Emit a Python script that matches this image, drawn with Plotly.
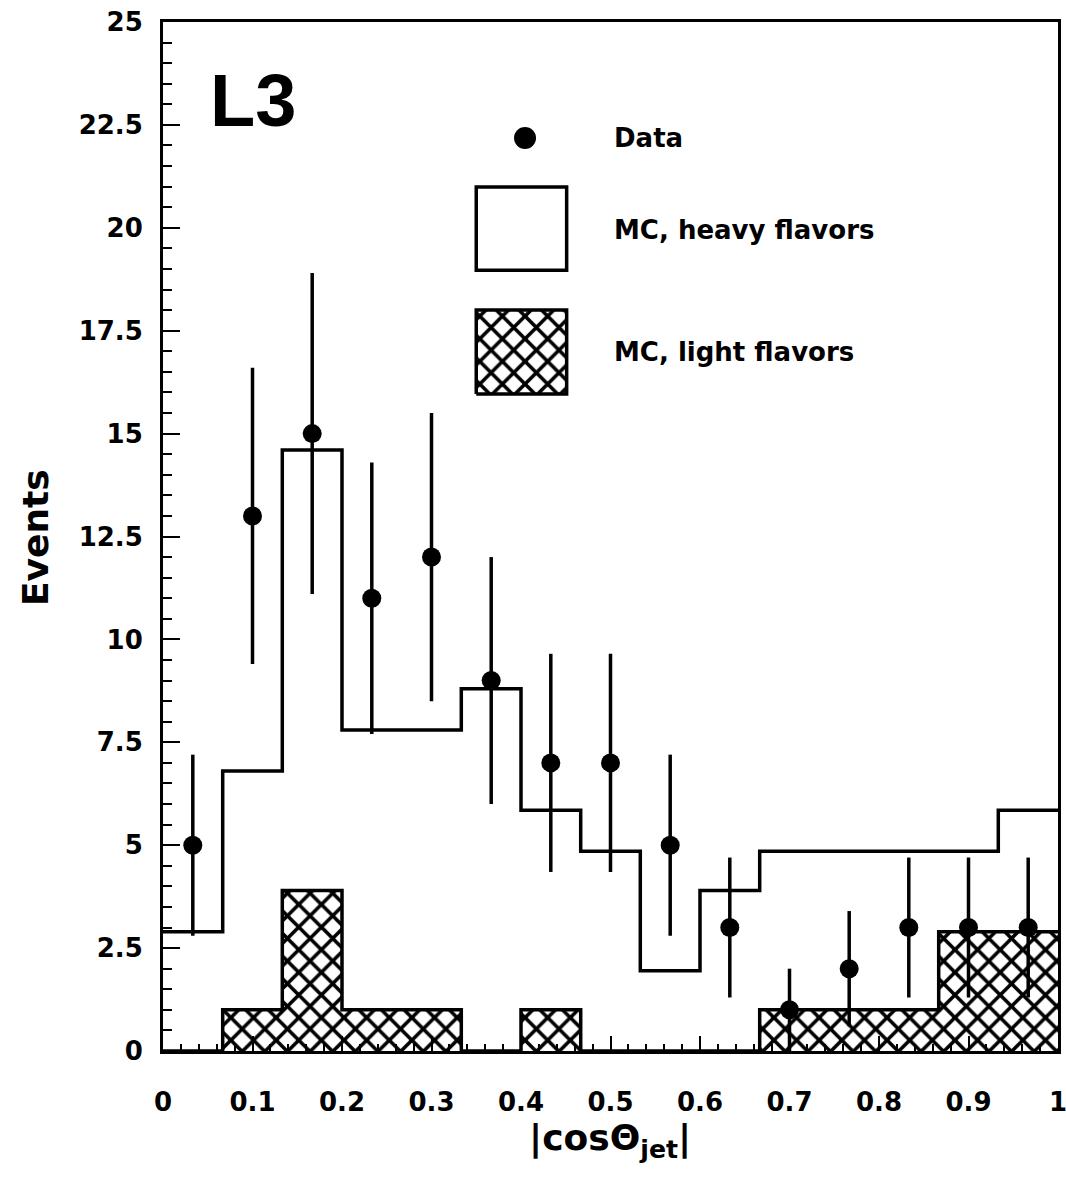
import plotly.graph_objects as go

# ---- data ----
bin_edges = [0.0, 0.0667, 0.1333, 0.2, 0.2667, 0.3333, 0.4, 0.4667, 0.5333,
             0.6, 0.6667, 0.7333, 0.8, 0.8667, 0.9333, 1.0]
bin_centers = [0.0333, 0.1, 0.1667, 0.2333, 0.3, 0.3667, 0.4333, 0.5, 0.5667,
               0.6333, 0.7, 0.7667, 0.8333, 0.9, 0.9667]
data_events = [5, 13, 15, 11, 12, 9, 7, 7, 5, 3, 1, 2, 3, 3, 3]
data_errors = [2.2, 3.6, 3.9, 3.3, 3.5, 3.0, 2.65, 2.65, 2.2, 1.7, 1.0, 1.4, 1.7, 1.7, 1.7]
mc_heavy = [2.9, 6.8, 14.6, 7.8, 7.8, 8.8, 5.85, 4.85, 1.95, 3.9, 4.85, 4.85, 4.85, 4.85, 5.85]
mc_light = [0, 1.0, 3.9, 1.0, 1.0, 0, 1.0, 0, 0, 0, 1.0, 1.0, 1.0, 2.9, 2.9]
y_ticks = [0, 2.5, 5, 7.5, 10, 12.5, 15, 17.5, 20, 22.5, 25]
y_ticklabels = ["0", "2.5", "5", "7.5", "10", "12.5", "15", "17.5", "20", "22.5", "25"]
x_ticks = [0, 0.1, 0.2, 0.3, 0.4, 0.5, 0.6, 0.7, 0.8, 0.9, 1.0]
x_ticklabels = ["0", "0.1", "0.2", "0.3", "0.4", "0.5", "0.6", "0.7", "0.8", "0.9", "1"]

FONT = "DejaVu Sans, Liberation Sans, Arial, sans-serif"
FONT_L3 = "Liberation Sans, Arial, Helvetica, sans-serif"
LW = 3.5
HATCH = dict(shape="x", fgcolor="black", bgcolor="white", fgopacity=1,
             fillmode="replace", size=16, solidity=0.4)

fig = go.Figure()

# light flavors: hatched step histogram
fig.add_trace(go.Scatter(
    x=bin_edges, y=mc_light + [mc_light[-1]],
    mode="lines", line=dict(shape="hv", color="black", width=LW),
    fill="tozeroy", fillcolor="white", fillpattern=HATCH,
    showlegend=False, hoverinfo="skip"))

# heavy flavors: open step histogram
fig.add_trace(go.Scatter(
    x=bin_edges, y=mc_heavy + [mc_heavy[-1]],
    mode="lines", line=dict(shape="hv", color="black", width=LW),
    showlegend=False, hoverinfo="skip"))

# data points
fig.add_trace(go.Scatter(
    x=bin_centers, y=data_events, mode="markers",
    marker=dict(color="black", size=19, symbol="circle"),
    error_y=dict(type="data", array=data_errors, visible=True,
                 color="black", thickness=3.5, width=0),
    showlegend=False))

# ---- manual legend (decoration) ----
fig.add_trace(go.Scatter(
    x=[0.4045], y=[22.18], mode="markers",
    marker=dict(color="black", size=22), showlegend=False, hoverinfo="skip"))
fig.add_shape(type="rect", xref="x", yref="y", x0=0.35, x1=0.451, y0=18.97, y1=20.99,
              line=dict(color="black", width=LW), fillcolor="white")
fig.add_trace(go.Scatter(
    x=[0.35, 0.451, 0.451, 0.35, 0.35], y=[15.96, 15.96, 18.0, 18.0, 15.96],
    mode="lines", line=dict(color="black", width=LW),
    fill="toself", fillcolor="white", fillpattern=HATCH,
    showlegend=False, hoverinfo="skip"))

legend_font = dict(family=FONT, size=26, color="black")
for txt, yy in [("<b>Data</b>", 22.18), ("<b>MC, heavy flavors</b>", 19.95),
                ("<b>MC, light flavors</b>", 16.98)]:
    fig.add_annotation(x=0.502, y=yy, xref="x", yref="y", text=txt, showarrow=False,
                       xanchor="left", yanchor="middle", font=legend_font)

fig.add_annotation(x=0.05, y=23.1, xref="x", yref="y", text="<b>L3</b>", showarrow=False,
                   xanchor="left", yanchor="middle",
                   font=dict(family=FONT_L3, size=74, color="black"))

# axis titles
fig.add_annotation(x=0.4994, y=-0.087, xref="paper", yref="paper",
                   text="<b>|cosΘ<sub>jet</sub>|</b>", showarrow=False,
                   xanchor="center", yanchor="middle",
                   font=dict(family=FONT, size=36, color="black"))
fig.add_annotation(x=-0.143, y=0.4985, xref="paper", yref="paper",
                   text="<b>Events</b>", showarrow=False, textangle=-90,
                   xanchor="center", yanchor="middle",
                   font=dict(family=FONT, size=36, color="black"))

fig.update_layout(
    width=1066, height=1181,
    margin=dict(l=163, r=8, t=22, b=130),
    paper_bgcolor="white", plot_bgcolor="white",
    font=dict(family=FONT, color="black"),
    showlegend=False,
)

fig.update_xaxes(
    range=[0, 1], showgrid=False, zeroline=False, automargin=False,
    showline=True, linecolor="black", linewidth=3, mirror=True,
    ticks="inside", ticklen=15, tickwidth=2, tickcolor="black",
    tickvals=x_ticks, ticktext=[f"<b>{t}</b>" for t in x_ticklabels],
    tickfont=dict(family=FONT, size=26, color="black"),
    ticklabelstandoff=26, ticklabeloverflow="allow",
    minor=dict(dtick=0.02, ticks="inside", ticklen=7, tickwidth=1.5, tickcolor="black"),
)
fig.update_yaxes(
    range=[0, 25], showgrid=False, zeroline=False, automargin=False,
    showline=True, linecolor="black", linewidth=3, mirror=True,
    ticks="inside", ticklen=17, tickwidth=2, tickcolor="black",
    tickvals=y_ticks, ticktext=[f"<b>{t}</b>" for t in y_ticklabels],
    tickfont=dict(family=FONT, size=26, color="black"),
    ticklabelstandoff=12, ticklabeloverflow="allow",
    minor=dict(dtick=0.5, ticks="inside", ticklen=9, tickwidth=1.5, tickcolor="black"),
)

# remove the default 8px page margin so the figure fills the window exactly
fig.write_html("out.html", config={"displayModeBar": False},
               post_script="document.body.style.margin='0';document.body.style.overflow='hidden';")
